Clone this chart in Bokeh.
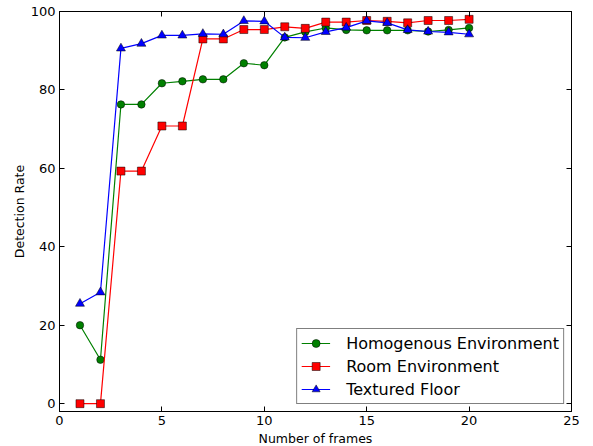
from bokeh.plotting import figure
from bokeh.models import (LinearAxis, FixedTicker, Range1d, Legend, LegendItem,
                          CustomJSTickFormatter)
from bokeh.embed import file_html
from bokeh.resources import INLINE

frames = list(range(1, 21))
homogenous = [20.0, 11.2, 76.3, 76.3, 81.7, 82.2, 82.7, 82.7, 86.8, 86.3,
              93.4, 94.8, 95.8, 95.3, 95.2, 95.2, 95.2, 94.9, 95.3, 95.8]
room = [0.0, 0.0, 59.3, 59.3, 70.8, 70.8, 93.0, 93.0, 95.4, 95.4,
        96.1, 95.7, 97.3, 97.3, 97.7, 97.5, 97.1, 97.7, 97.7, 98.0]
textured = [25.5, 28.4, 90.6, 91.8, 93.9, 93.9, 94.3, 94.2, 97.6, 97.5,
            93.4, 93.3, 94.8, 95.9, 97.6, 97.1, 95.3, 94.9, 94.7, 94.2]
labels = ["Homogenous Environment", "Room Environment", "Textured Floor"]
x_ticks = [0, 5, 10, 15, 20, 25]
y_ticks = [0, 20, 40, 60, 80, 100]

FONT = "DejaVu Sans"

p = figure(frame_width=512, frame_height=400, output_backend="svg",
           toolbar_location=None,
           x_range=Range1d(0, 25), y_range=Range1d(-2, 100),
           min_border_left=59, min_border_right=21, min_border_top=11,
           min_border_bottom=34)
p.grid.visible = False
p.outline_line_color = "black"
p.outline_line_width = 1
p.background_fill_color = "white"
p.border_fill_color = "white"

p.xaxis.axis_label = "Number of frames"
p.yaxis.axis_label = "Detection Rate"
for ax in [p.xaxis[0], p.yaxis[0]]:
    ax.major_label_text_font = FONT
    ax.major_label_text_font_size = "13px"
    ax.major_label_text_color = "black"
    ax.axis_label_text_font = FONT
    ax.axis_label_text_font_size = "12.5px"
    ax.axis_label_text_font_style = "normal"
    ax.axis_label_text_color = "black"
    ax.major_tick_in = 5
    ax.major_tick_out = 0
    ax.minor_tick_in = 0
    ax.minor_tick_out = 0
    ax.axis_line_color = "black"
    ax.major_tick_line_color = "black"
p.xaxis[0].major_label_standoff = 4
p.xaxis[0].axis_label_standoff = 3
p.yaxis[0].major_label_standoff = 4
p.yaxis[0].axis_label_standoff = 1
p.xaxis[0].ticker = FixedTicker(ticks=x_ticks)
p.yaxis[0].ticker = FixedTicker(ticks=y_ticks)

for loc, ticks in [("right", y_ticks), ("above", x_ticks)]:
    ax = LinearAxis(ticker=FixedTicker(ticks=ticks),
                    formatter=CustomJSTickFormatter(code="return ''"))
    ax.major_tick_in = 5
    ax.major_tick_out = 0
    ax.minor_tick_in = 0
    ax.minor_tick_out = 0
    ax.major_label_standoff = 0
    ax.major_label_text_font_size = "1px"
    ax.axis_line_color = "black"
    p.add_layout(ax, loc)

items = []
specs = [(homogenous, "#008000", "circle", 7.5),
         (room, "#ff0000", "square", 8),
         (textured, "#0000ff", "triangle", 9)]
for (vals, color, marker, size), lab in zip(specs, labels):
    l = p.line(frames, vals, line_color=color, line_width=1.2)
    s = p.scatter(frames, vals, marker=marker, size=size, fill_color=color,
                  line_color="black", line_width=0.5)
    items.append(LegendItem(label=lab, renderers=[l, s]))

legend = Legend(items=items, location="bottom_right")
legend.label_text_font = FONT
legend.label_text_font_size = "16px"
legend.label_text_color = "black"
legend.border_line_color = "black"
legend.border_line_width = 1
legend.background_fill_alpha = 1
legend.glyph_width = 29
legend.glyph_height = 20
legend.label_standoff = 16
legend.spacing = 3
legend.padding = 4
legend.margin = 7
p.add_layout(legend, "center")

open("out.html", "w").write(file_html(p, INLINE))
